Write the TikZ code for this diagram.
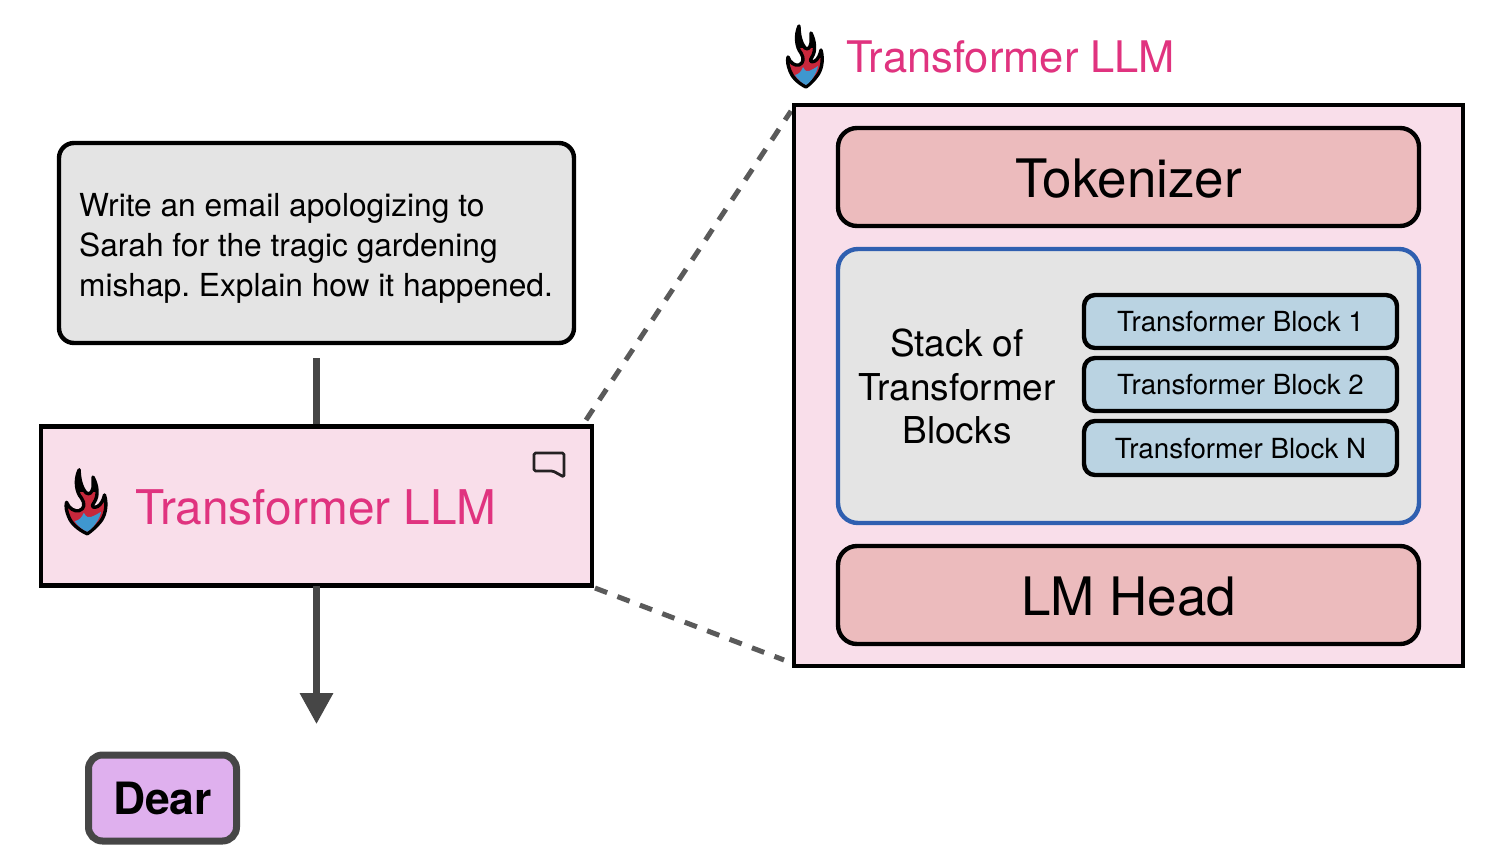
\documentclass[tikz,border=0pt]{standalone}
\usepackage{fontspec}
\setmainfont{TeX Gyre Heros}
\usetikzlibrary{arrows.meta}
\frenchspacing
\definecolor{pinkbg}{HTML}{F9DEEA}
\definecolor{pinktxt}{HTML}{E0337F}
\definecolor{greybg}{HTML}{E4E4E4}
\definecolor{salmon}{HTML}{ECBBBD}
\definecolor{blockblue}{HTML}{BAD3E2}
\definecolor{stackblue}{HTML}{2F5FB0}
\definecolor{lilac}{HTML}{DFB0EE}
\definecolor{arrowgrey}{HTML}{464646}
\definecolor{dashgrey}{HTML}{5A5A5A}
\definecolor{flamered}{HTML}{C8283C}
\definecolor{flameblue}{HTML}{3F97CF}
\newcommand{\flamepath}{%
      (35,76) .. controls (27,72) and (21,66) .. (19,60)
      .. controls (17,55) and (16,50) .. (17,46)
      .. controls (19,52) and (24,55) .. (28,54)
      .. controls (33,52) and (33,47) .. (30,42)
      .. controls (25,36) and (24,24) .. (28,15)
      .. controls (28,24) and (30,32) .. (34,37)
      .. controls (37,39) and (39,37) .. (40,32)
      .. controls (40,30) and (40,26) .. (40,22)
      .. controls (44,30) and (45,40) .. (41,46)
      .. controls (38,50) and (40,52) .. (44,50)
      .. controls (47,48) and (49,44) .. (50,39)
      .. controls (53,50) and (50,60) .. (46,65)
      .. controls (43,69) and (39,73) .. (35,76) -- cycle}
\newcommand{\flameicon}{%
  \begin{scope}
    \path[fill=flamered,draw=black,line width=3.4pt,line join=round] \flamepath;
    \begin{scope}
      \clip (0,0) rectangle (70,36);
      \path[fill=black] \flamepath;
    \end{scope}
    \path[fill=flameblue]
      (35,74) .. controls (31,72) and (27,69) .. (24,64)
      .. controls (28,63) and (30,61) .. (32,56)
      .. controls (34,60) and (36,61) .. (38,60)
      .. controls (41,59) and (44,57) .. (47,55)
      .. controls (46,62) and (40,71) .. (35,74) -- cycle;
  \end{scope}}
\tikzset{
  base/.style={draw=black,line width=4.4pt,minimum height=1pt,inner sep=0pt,outer sep=0pt},
  sq/.style={base,fill=pinkbg},
  big/.style={base,rounded corners=19pt,fill=salmon,minimum width=581pt,minimum height=98pt,font=\fontsize{53}{60}\selectfont},
  blk/.style={base,rounded corners=11pt,fill=blockblue,minimum width=313pt,font=\fontsize{27.7}{32}\selectfont},
  flow/.style={arrowgrey,line width=6.5pt},
  zoomline/.style={dashgrey,line width=5pt,dash pattern=on 13pt off 11pt},
  title/.style={text=pinktxt,inner sep=0pt,anchor=west}
}
\begin{document}
\begin{tikzpicture}[x=1pt,y=-1pt]
\useasboundingbox (0,0) rectangle (1506,852);
% coordinates for free connector ends
\coordinate (zoomTopA) at (586,420);
\coordinate (zoomTopB) at (791,111);
\coordinate (zoomBotA) at (595,588);
\coordinate (zoomBotB) at (784,660);
\coordinate (arrowTip) at (316.5,724);

\node[base,rounded corners=15pt,fill=greybg,minimum width=515pt,minimum height=200pt] (prompt) at (316.5,243) {};
\node[anchor=west,inner sep=0pt,align=left,font=\fontsize{31.7}{40}\selectfont] (prompttext) at (79,248)
  {Write an email apologizing to\\Sarah for the tragic gardening\\mishap. Explain how it happened.};

\draw[flow] (316.5,358) -- (316.5,427);
\draw[zoomline] (zoomTopA) -- (zoomTopB);
\draw[zoomline] (zoomBotA) -- (zoomBotB);

\node[sq,minimum width=551pt,minimum height=159pt] (llm) at (316.5,506) {};
\node[title,font=\fontsize{47.8}{56}\selectfont] (llmtitle) at (135,507) {Transformer LLM};
\draw[flow,-{Triangle[width=32pt,length=31pt]}] (llm.south) -- (arrowTip);

\begin{scope}[shift={(47,454)},xscale=1.15,yscale=1.05]\flameicon\end{scope}
\draw[black!85!pinkbg,line width=2.8pt,line join=round,rounded corners=1.5pt]
  (534,453) -- (564,453) -- (564,477) -- (553,471) -- (534,471) -- cycle;

\node[base,line width=7pt,draw=arrowgrey,rounded corners=14pt,fill=lilac,minimum width=148pt,minimum height=86pt,font=\fontsize{44.5}{50}\bfseries\selectfont] (dear) at (162.5,798) {Dear};

\node[title,font=\fontsize{43.5}{50}\selectfont] (toptitle) at (846,56.5) {Transformer LLM};
\begin{scope}[shift={(771,11)},scale=1]\flameicon\end{scope}

\node[sq,minimum width=669pt,minimum height=561pt] (outer) at (1128.5,385.5) {};
\node[big] (tok) at (1128.5,177) {\raisebox{-2pt}[\height][\depth]{Tokenizer}};
\node[base,draw=stackblue,rounded corners=20pt,fill=greybg,minimum width=581pt,minimum height=274pt] (stack) at (1128.5,386) {};
\node[align=center,inner sep=0pt,font=\fontsize{37}{43.5}\selectfont] (stacklabel) at (957,386.5) {Stack of\\Transformer\\Blocks};
\node[blk,minimum height=53pt] (b1) at (1240.5,321.5) {\raisebox{-0.5pt}[\height][\depth]{Transformer Block 1}};
\node[blk,minimum height=53pt] (b2) at (1240.5,384.5) {\raisebox{-0.5pt}[\height][\depth]{Transformer Block 2}};
\node[blk,minimum height=54pt] (b3) at (1240.5,448) {\raisebox{-1pt}[\height][\depth]{Transformer Block N}};
\node[big] (head) at (1128.5,595) {\raisebox{-2pt}[\height][\depth]{LM Head}};
\end{tikzpicture}
\end{document}
